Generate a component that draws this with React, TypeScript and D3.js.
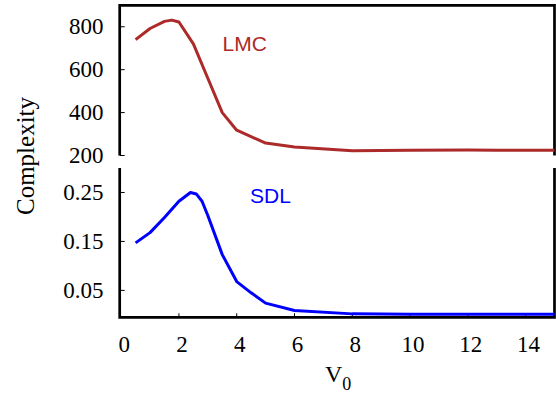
import React from "react";
import * as d3 from "d3";

const lmcX = [0.5, 1.0, 1.5, 1.75, 2.0, 2.5, 3.0, 3.5, 4.0, 5.0, 6.0, 8.0, 10.0, 12.0, 13.0, 15.0];
const lmcY = [740, 792, 825, 831, 822, 720, 560, 400, 318, 258, 240, 222, 225, 226, 224, 224];

const sdlX = [0.5, 1.0, 1.5, 2.0, 2.4, 2.6, 2.8, 3.0, 3.5, 4.0, 4.5, 5.0, 6.0, 8.0, 10.0, 12.0, 15.0];
const sdlY = [0.147, 0.168, 0.199, 0.232, 0.25, 0.247, 0.232, 0.203, 0.123, 0.068, 0.045, 0.024, 0.009, 0.002, 0.001, 0.001, 0.001];

const xTicks = [0, 2, 4, 6, 8, 10, 12, 14];
const topTicks = [200, 400, 600, 800];
const bottomTicks = [0.05, 0.15, 0.25];
const bottomTickLabels = ["0.05", "0.15", "0.25"];

const W = 556;
const H = 395;
const LEFT = 119.7;
const RIGHT = 554.5;
const TOP1 = 5.3;
const BOT1 = 155.5;
const TOP2 = 168;
const BOT2 = 317.3;

const serif = "Liberation Serif";
const sans = "Liberation Sans";

export default function App() {
  const x = d3.scaleLinear().domain([-0.05, 15]).range([LEFT, RIGHT]);
  const yTop = d3.scaleLinear().domain([200, 900]).range([BOT1, TOP1]);
  const yBot = d3.scaleLinear().domain([-0.005, 0.3]).range([BOT2, TOP2]);

  const lmcLine = d3
    .line<number>()
    .x((_, i) => x(lmcX[i]))
    .y((d) => yTop(d));
  const sdlLine = d3
    .line<number>()
    .x((_, i) => x(sdlX[i]))
    .y((d) => yBot(d));

  const frame = { stroke: "#000", strokeWidth: 2.7, fill: "none" };

  return (
    <svg
      width={W}
      height={H}
      style={{ position: "fixed", left: 0, top: 0, background: "#fff" }}
    >
      <rect x={0} y={0} width={W} height={H} fill="#fff" />
      <path d={`M${LEFT},${BOT1}V${TOP1}H${RIGHT}V${BOT1}`} {...frame} />
      <path d={`M${LEFT},${TOP2}V${BOT2}H${RIGHT}V${TOP2}`} {...frame} />
      {topTicks.map((t) => (
        <g key={"tt" + t}>
          <line x1={LEFT} x2={LEFT + 5} y1={yTop(t)} y2={yTop(t)} stroke="#000" strokeWidth={1} />
          <text
            x={103.5}
            y={yTop(t) + 7.5}
            textAnchor="end"
            style={{ fontFamily: serif, fontSize: 23 }}
            fill="#000"
          >
            {t}
          </text>
        </g>
      ))}
      {bottomTicks.map((t, i) => (
        <g key={"bt" + t}>
          <line x1={LEFT} x2={LEFT + 5} y1={yBot(t)} y2={yBot(t)} stroke="#000" strokeWidth={1} />
          <text
            x={103.5}
            y={yBot(t) + 7.5}
            textAnchor="end"
            style={{ fontFamily: serif, fontSize: 23 }}
            fill="#000"
          >
            {bottomTickLabels[i]}
          </text>
        </g>
      ))}
      {xTicks.map((t) => (
        <g key={"xt" + t}>
          {t > 0 && (
            <line x1={x(t)} x2={x(t)} y1={BOT2} y2={BOT2 - 4} stroke="#000" strokeWidth={1} />
          )}
          <text
            x={x(t) + 3}
            y={351.5}
            textAnchor="middle"
            style={{ fontFamily: serif, fontSize: 23 }}
            fill="#000"
          >
            {t}
          </text>
        </g>
      ))}
      <path d={lmcLine(lmcY) || ""} fill="none" stroke="#ac2a2a" strokeWidth={3} strokeLinejoin="round" />
      <path d={sdlLine(sdlY) || ""} fill="none" stroke="#0000ff" strokeWidth={3} strokeLinejoin="round" />
      <text x={222.5} y={51} style={{ fontFamily: sans, fontSize: 21 }} fill="#ac2a2a">
        LMC
      </text>
      <text x={250} y={203.3} style={{ fontFamily: sans, fontSize: 21 }} fill="#0000ff">
        SDL
      </text>
      <text
        transform="translate(33.5,156) rotate(-90)"
        textAnchor="middle"
        style={{ fontFamily: serif, fontSize: 25 }}
        fill="#000"
      >
        Complexity
      </text>
      <text x={325} y={381.5} style={{ fontFamily: serif, fontSize: 24 }} fill="#000">
        V
        <tspan dy={8} style={{ fontSize: 18 }}>
          0
        </tspan>
      </text>
    </svg>
  );
}
